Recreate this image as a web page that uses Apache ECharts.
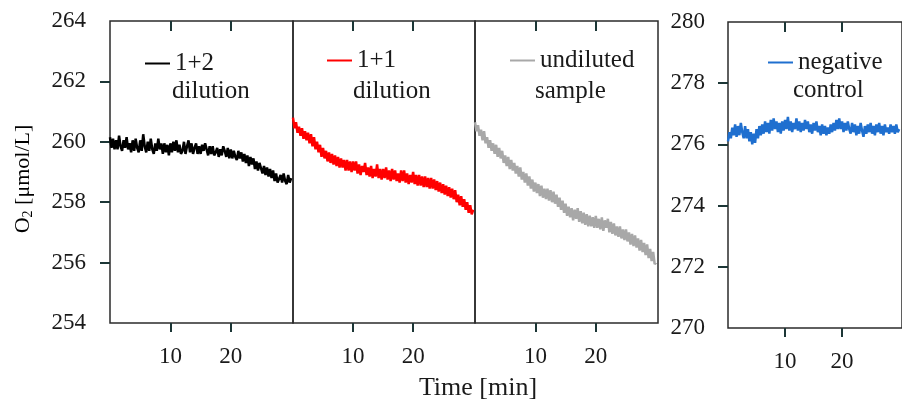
<!DOCTYPE html>
<html><head><meta charset="utf-8">
<script src="https://cdn.jsdelivr.net/npm/echarts/dist/echarts.min.js"></script>
<style>html,body{margin:0;padding:0;background:#fff}#c{width:902px;height:405px}</style>
</head><body><div id="c"></div>
<script>
const times = [0,0.25,0.5,0.75,1,1.25,1.5,1.75,2,2.25,2.5,2.75,3,3.25,3.5,3.75,4,4.25,4.5,4.75,5,5.25,5.5,5.75,6,6.25,6.5,6.75,7,7.25,7.5,7.75,8,8.25,8.5,8.75,9,9.25,9.5,9.75,10,10.25,10.5,10.75,11,11.25,11.5,11.75,12,12.25,12.5,12.75,13,13.25,13.5,13.75,14,14.25,14.5,14.75,15,15.25,15.5,15.75,16,16.25,16.5,16.75,17,17.25,17.5,17.75,18,18.25,18.5,18.75,19,19.25,19.5,19.75,20,20.25,20.5,20.75,21,21.25,21.5,21.75,22,22.25,22.5,22.75,23,23.25,23.5,23.75,24,24.25,24.5,24.75,25,25.25,25.5,25.75,26,26.25,26.5,26.75,27,27.25,27.5,27.75,28,28.25,28.5,28.75,29,29.25,29.5,29.75,30];
const names = ['1+2 dilution','1+1 dilution','undiluted sample','negative control'];
const dil12 = [
260.15,259.80,260.10,259.75, 260.05,259.75,260.20,259.85, 259.70,260.05,259.80,260.15, 259.75,259.95,259.65,260.05,
259.70,260.10,259.80,259.65, 260.05,259.70,260.25,259.85, 259.65,260.00,259.70,260.10, 259.75,259.60,259.95,259.70,
260.10,259.75,259.95,259.60, 259.95,259.65,259.90,259.55, 259.95,259.65,260.00,259.70, 260.05,259.65,259.90,259.60,
259.70,260.00,259.60,259.85, 260.05,259.65,259.95,259.60, 259.80,259.95,259.60,259.85, 259.60,259.90,259.70,259.95,
259.75,259.55,259.85,259.60, 259.85,259.55,259.65,259.80, 259.50,259.75,259.55,259.85, 259.70,259.50,259.80,259.45,
259.75,259.45,259.70,259.50, 259.40,259.70,259.45,259.65, 259.35,259.60,259.30,259.55, 259.20,259.50,259.25,259.45,
259.10,259.35,259.05,259.30, 259.25,258.95,259.20,258.90, 259.15,258.85,259.10,258.80, 259.05,258.70,258.95,258.65,
258.60,258.90,258.65,258.95, 258.70,258.60,258.90,258.65, 258.80];
const dil11 = [
260.80,260.45,260.65,260.30, 260.50,260.20,260.45,260.10, 260.35,260.05,260.30,259.95, 260.25,259.85,260.15,259.75,
260.00,259.65,259.90,259.50, 259.80,259.45,259.70,259.35, 259.65,259.30,259.60,259.25, 259.55,259.20,259.50,259.15,
259.45,259.15,259.40,259.05, 259.40,259.05,259.35,259.00, 259.35,259.05,259.35,258.95, 259.25,258.90,259.20,259.00,
259.30,258.90,259.15,258.85, 259.20,258.80,259.10,258.85, 259.25,258.80,259.10,258.75, 259.10,258.80,259.15,258.75,
259.05,258.70,259.10,258.75, 259.05,258.70,258.95,258.65, 259.05,258.70,259.05,258.65, 258.95,258.60,258.90,258.65,
259.00,258.60,258.90,258.55, 258.90,258.55,258.85,258.50, 258.85,258.50,258.80,258.45, 258.80,258.45,258.75,258.40,
258.70,258.35,258.65,258.30, 258.60,258.25,258.55,258.20, 258.50,258.15,258.45,258.10, 258.40,258.00,258.25,257.90,
258.20,257.85,258.10,257.75, 258.00,257.65,257.90,257.60, 257.75];
const undil = [
260.65,260.35,260.55,260.20, 260.40,260.05,260.35,259.95, 260.15,259.80,260.05,259.70, 259.95,259.60,259.90,259.50,
259.80,259.45,259.70,259.30, 259.55,259.20,259.50,259.10, 259.40,259.05,259.30,258.95, 259.20,258.85,259.15,258.75,
259.00,258.65,258.95,258.55, 258.85,258.45,258.75,258.35, 258.65,258.30,258.60,258.20, 258.55,258.15,258.45,258.10,
258.45,258.05,258.40,258.00, 258.35,257.95,258.25,257.85, 258.15,257.75,258.05,257.65, 257.95,257.55,257.85,257.50,
257.80,257.40,257.75,257.45, 257.80,257.35,257.70,257.30, 257.65,257.25,257.60,257.20, 257.55,257.20,257.50,257.15,
257.55,257.15,257.45,257.10, 257.50,257.05,257.40,257.15, 257.45,257.00,257.35,256.95, 257.30,256.90,257.20,256.85,
257.20,256.80,257.10,256.75, 257.10,256.70,257.00,256.60, 256.95,256.55,256.90,256.50, 256.80,256.40,256.75,256.35,
256.65,256.25,256.60,256.15, 256.45,256.05,256.35,255.95, 256.00];
const negctl = [
276.10,276.40,276.20,276.55, 276.30,276.65,276.25,276.60, 276.30,276.70,276.40,276.20, 276.60,276.20,276.50,276.10,
276.40,276.00,276.35,276.05, 276.50,276.20,276.60,276.30, 276.65,276.35,276.75,276.40, 276.70,276.35,276.80,276.45,
276.85,276.50,276.75,276.40, 276.70,276.35,276.75,276.45, 276.80,276.50,276.90,276.45, 276.75,276.40,276.70,276.50,
276.85,276.45,276.75,276.40, 276.70,276.45,276.80,276.50, 276.75,276.40,276.65,276.35, 276.70,276.45,276.75,276.40,
276.60,276.30,276.65,276.35, 276.60,276.30,276.55,276.35, 276.65,276.40,276.70,276.45, 276.80,276.50,276.85,276.50,
276.75,276.40,276.70,276.45, 276.75,276.50,276.35,276.70, 276.40,276.65,276.30,276.60, 276.35,276.70,276.45,276.25,
276.60,276.35,276.65,276.40, 276.70,276.35,276.60,276.30, 276.65,276.40,276.70,276.35, 276.60,276.30,276.65,276.40,
276.55,276.35,276.65,276.40, 276.60,276.35,276.65,276.40, 276.50];
const yTicksLeft = [254,256,258,260,262,264];
const yTicksRight = [270,272,274,276,278,280];
const xTicks = [10,20];

const FONT = 'Liberation Serif';
const TXT = '#1a1a1a';
const TICK = '#1c3636';
const colors = ['#000000','#ff0000','#a8a8a8','#1f6fcf'];

const grids = [
  {left:110, top:21, width:183, height:302},
  {left:293, top:21, width:182, height:302},
  {left:475, top:21, width:183, height:302},
  {left:728, top:22, width:192, height:306}
];
const xMax = [30.3, 30.3, 30.3, 30.5];

const xAxis = [];
const yAxis = [];
grids.forEach((g, i) => {
  xAxis.push({type:'value', gridIndex:i, min:0, max:xMax[i], axisLine:{show:false}, splitLine:{show:false},
    axisTick:{show:true, inside:false, length:9, customValues:xTicks, lineStyle:{color:TICK, width:2}},
    axisLabel:{show:true, customValues:xTicks, margin:22, fontFamily:FONT, fontSize:23, color:TXT}});
  xAxis.push({type:'value', gridIndex:i, min:0, max:xMax[i], axisLine:{show:false}, splitLine:{show:false},
    axisTick:{show:true, inside:true, length:10, customValues:xTicks, lineStyle:{color:TICK, width:2}},
    axisLabel:{show:false}});
});
const yMinMax = [[254,264],[254,264],[254,264],[270,280]];
grids.forEach((g, i) => {
  const showY = (i === 0 || i === 3);
  const labels = i === 3 ? yTicksRight : yTicksLeft;
  const ticks = labels.slice(1, -1);
  yAxis.push({type:'value', gridIndex:i, min:yMinMax[i][0], max:yMinMax[i][1], axisLine:{show:false}, splitLine:{show:false},
    axisTick:{show:showY, inside:false, length:10, customValues:ticks, lineStyle:{color:TICK, width:2}},
    axisLabel:{show:showY, customValues:labels, margin:i===3?23:24, fontFamily:FONT, fontSize:23, color:TXT}});
  yAxis.push({type:'value', gridIndex:i, min:yMinMax[i][0], max:yMinMax[i][1], axisLine:{show:false}, splitLine:{show:false},
    axisTick:{show:showY, inside:true, length:8, customValues:ticks, lineStyle:{color:TICK, width:2}},
    axisLabel:{show:false}});
});

const vals = [dil12, dil11, undil, negctl];
const series = vals.map((v, i) => ({
  name: names[i], type:'line', xAxisIndex: i*2, yAxisIndex: i*2,
  data: times.map((t, k) => [t, v[k]]),
  symbol:'none', showSymbol:false,
  lineStyle:{color:colors[i], width:2.5}, itemStyle:{color:colors[i]},
  animation:false, clip:true
}));

const legendPos = [[140,46],[322,43],[505,43],[763,45]];
const legend = names.map((n, i) => ({
  data:[{name:n, icon:'rect'}], left:legendPos[i][0], top:legendPos[i][1], itemWidth:25, itemHeight:2, itemGap:0,
  formatter: s => s.split(' ')[0], selectedMode:false,
  textStyle:{fontFamily:FONT, fontSize:25, color:TXT}
}));

const second = [[172,91],[353,91],[535,91],[793,90]];
const graphic = names.map((n, i) => ({
  type:'text', x:second[i][0], y:second[i][1],
  style:{text:n.split(' ')[1], fontFamily:FONT, fontSize:25, fill:TXT, verticalAlign:'middle'}
}));
graphic.push({type:'text', x:23, y:179, rotation:Math.PI/2,
  style:{text:'{a|O}{b|2}{a| [μmol/L]}', align:'center', verticalAlign:'middle',
    rich:{a:{fontFamily:FONT, fontSize:22, color:'#2e2e2e'}, b:{fontFamily:FONT, fontSize:14, color:'#2e2e2e', padding:[10,0,0,0]}}}});
graphic.push({type:'text', x:478, y:388,
  style:{text:'Time [min]', fontFamily:FONT, fontSize:26, fill:TXT, align:'center', verticalAlign:'middle'}});

const chart = echarts.init(document.getElementById('c'), null, {renderer:'canvas'});
chart.setOption({
  backgroundColor:'#ffffff',
  animation:false,
  grid: grids.map(g => Object.assign({show:true, borderColor:'#2b2b2b', borderWidth:1.5, backgroundColor:'transparent'}, g)),
  xAxis, yAxis, series, legend, graphic
});
</script></body></html>
